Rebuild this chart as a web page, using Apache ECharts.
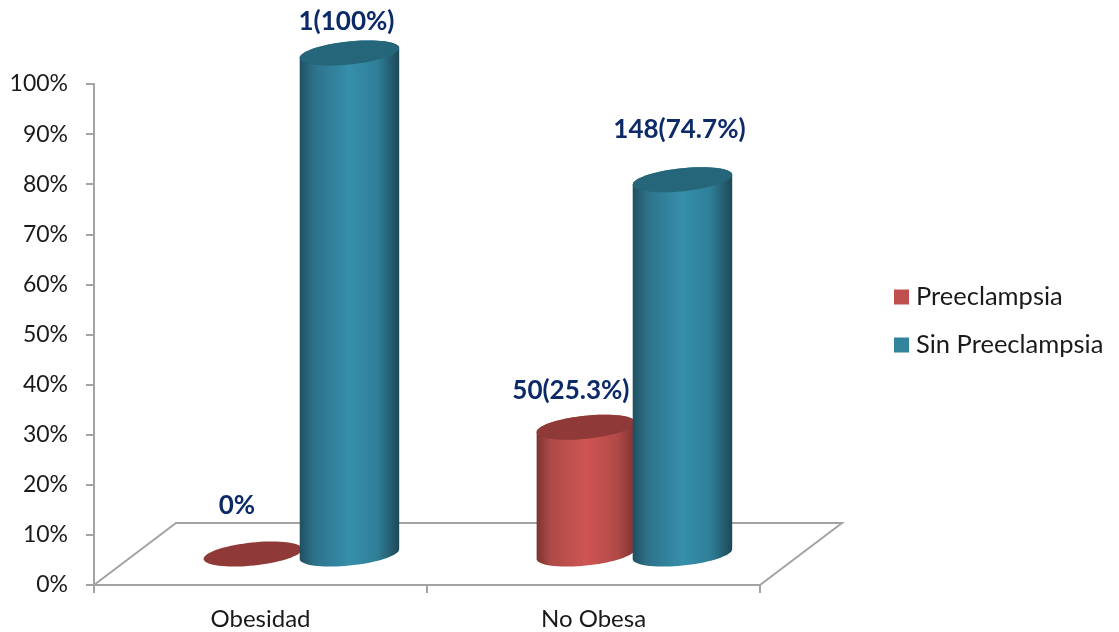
<!DOCTYPE html>
<html>
<head>
<meta charset="utf-8">
<style>html,body{margin:0;padding:0;background:#fff}#chart{width:1119px;height:632px}</style>
<script src="https://cdn.jsdelivr.net/npm/echarts@6/dist/echarts.min.js"></script>
</head>
<body>
<div id="chart"></div>
<script>
// Share of pre-eclampsia by obesity group, drawn as 3D-looking cylinders.
const categories = ['Obesidad', 'No Obesa'];
const preeclampsia = [0, 25.3];
const sinPreeclampsia = [100, 74.7];
const preeclampsiaLabels = ['0%', '50(25.3%)'];
const sinPreeclampsiaLabels = ['1(100%)', '148(74.7%)'];
const yTicksMax = 100;

const FONT = 'Lato, "Open Sans", sans-serif';
const AXIS_COLOR = '#a3a3a3';
const DEPTH_X = 82;        // receding floor offset, px
const DEPTH_Y = -62;
const TILT = -6 * Math.PI / 180;
const ELLIPSE_B = 11.5;

// A point on the tilted ellipse rim.
function rim(cx, cy, a, t) {
  return [
    cx + a * Math.cos(t) * Math.cos(TILT) - ELLIPSE_B * Math.sin(t) * Math.sin(TILT),
    cy + a * Math.cos(t) * Math.sin(TILT) + ELLIPSE_B * Math.sin(t) * Math.cos(TILT)
  ];
}
function ellipsePoints(cx, cy, a) {
  const pts = [];
  for (let i = 0; i < 72; i++) pts.push(rim(cx, cy, a, i / 72 * 2 * Math.PI));
  return pts;
}
// Side wall: front half of the lower rim, closed along the upper rim.
function wallPoints(cx, top, bottom, a) {
  const t0 = Math.atan2(-ELLIPSE_B * Math.sin(TILT), a * Math.cos(TILT));
  const pts = [];
  for (let i = 0; i <= 36; i++) pts.push(rim(cx, bottom, a, t0 + i / 36 * Math.PI));
  for (let i = 0; i <= 36; i++) pts.push(rim(cx, top, a, t0 + Math.PI + i / 36 * Math.PI));
  return pts;
}

function cylinderSeries(name, values, labels, look) {
  return {
    name, type: 'custom', clip: false, z: look.z,
    itemStyle: { color: look.swatch },
    encode: { x: 0, y: 1 },
    data: values.map((v, i) => [i, v]),
    renderItem(params, api) {
      const i = params.dataIndex;
      const band = api.size([1, 0])[0];
      const top = api.coord([api.value(0), api.value(1)]);
      const base = api.coord([api.value(0), 0]);
      const cx = top[0] + DEPTH_X / 2 + band * look.shift;
      const yTop = top[1] + DEPTH_Y / 2;
      const yBase = base[1] + DEPTH_Y / 2;
      const a = look.radius;
      const children = [];
      if (yBase - yTop > 0.5) {
        children.push({
          type: 'polygon',
          shape: { points: wallPoints(cx, yTop, yBase, a) },
          style: {
            fill: { type: 'linear', x: 0, y: 0, x2: 1, y2: 0, colorStops: look.wall }
          }
        });
      }
      children.push({
        type: 'polygon',
        shape: { points: ellipsePoints(cx, yTop, a) },
        style: { fill: look.cap }
      });
      children.push({
        type: 'text',
        style: {
          text: labels[i],
          x: cx + look.labelDx[i],
          y: yTop + look.labelDy[i],
          align: 'center',
          verticalAlign: 'middle',
          fill: '#0c2a68',
          font: 'bold 26px ' + FONT
        }
      });
      return { type: 'group', children };
    }
  };
}

const floorSeries = {
  name: 'floor', type: 'custom', silent: true, clip: false, z: 1,
  data: [[0, 0]],
  encode: { x: 0, y: 1 },
  renderItem(params) {
    const g = params.coordSys;
    const b = g.y + g.height, r = g.x + g.width;
    return {
      type: 'polyline',
      shape: { points: [[g.x, b], [g.x + DEPTH_X, b + DEPTH_Y], [r + DEPTH_X, b + DEPTH_Y], [r, b]] },
      style: { fill: 'none', stroke: AXIS_COLOR, lineWidth: 2 }
    };
  }
};

const axisStroke = { lineStyle: { color: AXIS_COLOR, width: 2 } };

const chart = echarts.init(document.getElementById('chart'), null, { renderer: 'canvas' });
chart.setOption({
  animation: false,
  backgroundColor: '#ffffff',
  grid: { left: 94, right: 359, top: 84, bottom: 47, containLabel: false },
  legend: {
    left: 889, top: 279, orient: 'vertical', icon: 'rect',
    itemWidth: 15, itemHeight: 15, itemGap: 22,
    data: ['Preeclampsia', 'Sin Preeclampsia'],
    textStyle: { color: '#1a1a1a', fontFamily: FONT, fontSize: 25.5, padding: [0, 0, 0, 2] }
  },
  xAxis: {
    type: 'category', data: categories,
    axisLine: { show: true, ...axisStroke },
    axisTick: { show: true, length: 8, ...axisStroke },
    axisLabel: { color: '#1a1a1a', fontFamily: FONT, fontSize: 24, margin: 22 }
  },
  yAxis: {
    type: 'value', min: 0, max: yTicksMax, interval: 10,
    axisLine: { show: true, ...axisStroke },
    axisTick: { show: true, length: 8, ...axisStroke },
    axisLabel: { color: '#1a1a1a', fontFamily: FONT, fontSize: 23, margin: 26, padding: [3, 0, 0, 0], formatter: '{value}%' },
    splitLine: { show: false }
  },
  series: [
    floorSeries,
    cylinderSeries('Preeclampsia', preeclampsia, preeclampsiaLabels, {
      z: 3, shift: -0.146, radius: 49.5, swatch: '#c0504d', cap: '#8f3a38',
      labelDx: [-16, -15], labelDy: [-48, -37],
      wall: [
        { offset: 0, color: '#7c3331' },
        { offset: 0.14, color: '#ad4a47' },
        { offset: 0.5, color: '#cf5552' },
        { offset: 0.82, color: '#b04a47' },
        { offset: 1, color: '#7c3331' }
      ]
    }),
    cylinderSeries('Sin Preeclampsia', sinPreeclampsia, sinPreeclampsiaLabels, {
      z: 4, shift: 0.144, radius: 50, swatch: '#31849b', cap: '#26667a',
      labelDx: [-3, -3], labelDy: [-31, -50],
      wall: [
        { offset: 0, color: '#1f4f5f' },
        { offset: 0.14, color: '#2d7189' },
        { offset: 0.5, color: '#368fab' },
        { offset: 0.78, color: '#2f7f98' },
        { offset: 1, color: '#1d4856' }
      ]
    })
  ]
});
</script>
</body>
</html>
